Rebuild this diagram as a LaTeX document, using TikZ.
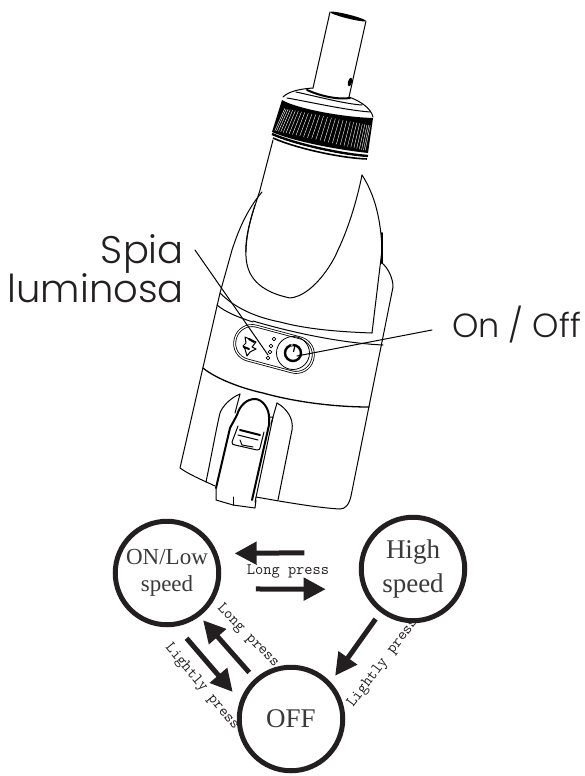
\documentclass[tikz,border=0pt]{standalone}
\usepackage{fontspec}
\usetikzlibrary{arrows.meta,calc}
\setmainfont{Liberation Serif}
\newfontfamily\etifont[UprightFont=*-Light]{Poppins}
\definecolor{tinta}{HTML}{231F20}
\definecolor{texto}{HTML}{3A3A3A}
\begin{document}
\begin{tikzpicture}[x=1pt,y=-1pt,
      linea/.style={draw=black,line width=1pt,line cap=round,line join=round},
      gruesa/.style={linea,line width=2pt},
      eti/.style={font=\etifont\fontsize{38.5}{42}\selectfont,text=tinta,inner sep=0pt,anchor=base east},
      estado/.style={circle,draw=tinta,line width=5pt,fill=white,minimum size=103.5pt,inner sep=0pt,
                     align=center,text=texto},
      pulsa/.style={font=\ttfamily\fontsize{16}{16}\selectfont,text=tinta,inner sep=0pt},
      fl/.style={-{Triangle[length=22pt,width=22pt]},draw=tinta,line width=5pt}]
    \useasboundingbox (0,0) rectangle (584,776);
    % tubo y tapa
    \draw[linea] (330,12) -- (313,88) (366,21) -- (349,97);
    \fill[black,rotate around={-14:(348,16.5)}] (348,16.5) ellipse (18.5pt and 2pt);
    \fill[black,rotate around={75:(350,82)}] (350,82) ellipse (4.5pt and 2pt);
    \draw[linea] (283,97) .. controls (288,92) and (298,89) .. (313,88)
                 (349,97) .. controls (360,101) and (371,108) .. (373,117);
    \draw[linea] (287,98) .. controls (310,102) and (345,110) .. (370,112);
    \draw[linea] (296,92) .. controls (315,96) and (345,104) .. (362,105);
    \draw[gruesa] (307,90) .. controls (320,96) and (338,100) .. (350,98);
    \coordinate (b1) at (282,100);
    \coordinate (b2) at (373,118);
    \coordinate (b3) at (368,153);
    \coordinate (b4) at (272,132);
    \fill[black] (b1) .. controls (295,108) and (340,117) .. (b2) -- (b3)
                 .. controls (340,150) and (295,142) .. (b4) -- cycle;
    \foreach \a in {20,25,...,160} {
      \pgfmathsetmacro{\t}{0.5*(1-cos(\a))}
      \draw[white,line width=0.4pt] ($(b1)!\t!(b2)+(0,8)$) -- ($(b4)!\t!(b3)+(0,-2)$);
    }
    \draw[black,line width=2.4pt] (272,134) .. controls (295,144) and (340,154) .. (368,156);
    \draw[white,line width=0.6pt] (272,136) .. controls (295,146) and (340,156) .. (368,158);
    \draw[black,line width=1.6pt] (273,138) .. controls (295,148) and (340,158) .. (367,159);
    % cuerpo
    \draw[linea] (273,140) -- (260,190) .. controls (255,207) and (247,225) .. (246,250)
                 .. controls (245,270) and (252,290) .. (290,298)
                 .. controls (312,296) and (332,265) .. (338,250)
                 .. controls (350,225) and (358,195) .. (362,175);
    \draw[linea] (262,192) .. controls (245,212) and (237,235) .. (232,250) -- (220,293) -- (180,468)
                 .. controls (190,475) and (200,479) .. (215,486);
    \draw[linea] (255,205) .. controls (250,220) and (245,240) .. (246,252);
    \draw[linea] (362,175) .. controls (375,195) and (381,220) .. (382,250) -- (372,333);
    \draw[gruesa] (382,233) -- (382,263);
    \draw[linea] (382,263) .. controls (388,268) and (393,278) .. (393,287) -- (351,496)
                 .. controls (349,505) and (345,509) .. (340,509) .. controls (320,508) and (290,503) .. (256,497);
    \draw[linea] (220,293) .. controls (235,308) and (255,317) .. (280,322)
                 .. controls (310,330) and (345,332) .. (372,333);
    \draw[linea] (217,305) .. controls (225,312) and (240,318) .. (253,322);
    \draw[linea] (253,321) .. controls (290,332) and (340,343) .. (383,345);
    \draw[linea,line width=1.3pt] (203,368) .. controls (215,378) and (240,388) .. (263,393)
                 .. controls (295,402) and (335,407) .. (369,407);
    % panel del boton
    \node[draw=black,line width=0.8pt,double,double distance=1.2pt,rounded corners=17pt,rotate=-15,
          minimum width=80pt,minimum height=35pt,inner sep=0pt] (panel) at (274,349) {};
    \node[draw=black,circle,line width=0.8pt,minimum size=33pt,inner sep=0pt] (boton) at (293,353) {};
    \draw[black,line width=2.4pt] (boton.center) circle (8pt);
    \draw[white,line width=2.5pt] (291.5,344.5) -- (292.5,344.7);
    \draw[black,line width=1.2pt] (295,345) -- (293.5,352);
    \foreach \x/\y in {274/339,271/346,270/352,268/358}
      \draw[linea,line width=0.7pt] (\x,\y) circle (1.8pt);
    \draw[linea] (245,337) -- (256,342) -- (252,347) -- (256,349) -- (250,352) -- (247,356) -- (245,349) -- (243,346) -- (246,343) -- cycle;
    \draw[gruesa] (249,339) -- (254,342) (244,347) -- (249,349);
    % pestillo
    \draw[linea] (240,394) .. controls (230,398) and (222,407) .. (220,413) .. controls (216,430) and (211,458) .. (206,482);
    \draw[linea] (240,394) -- (235,413);
    \draw[linea] (277,403) .. controls (286,408) and (294,418) .. (292,430) -- (278,500);
    \draw[linea] (277,403) -- (271,424);
    \draw[gruesa] (216,488) -- (230,428) -- (237,415) .. controls (240,405) and (247,399) .. (255,399)
                  .. controls (262,399) and (269,408) .. (269,417) -- (269,425) -- (252,500);
    \draw[linea] (273,417) -- (255,502) (269,417) -- (273,417);
    \draw[linea] (216,488) -- (216,500) -- (233,505) -- (255,508) -- (256,500);
    \draw[linea] (233,497) -- (233,505);
    \draw[gruesa] (240,430) -- (260,435);
    \draw[linea] (238,426) -- (232,442) .. controls (232,444) and (233,445) .. (235,445) -- (257,450)
                 .. controls (259,450) and (260,449) .. (260,448) -- (264,432);
    \draw[linea] (238,435) -- (258,440) (240,440) -- (242,445) -- (253,447);
    % etiquetas
    \node[eti] (spia) at (184,263) {Spia};
    \node[eti] (lumi) at (184,302) {luminosa};
    \node[eti,font=\etifont\fontsize{33.5}{36}\selectfont,anchor=base west] (onoff) at (452,337) {On / Off};
    \coordinate (p1) at (195,250);
    \coordinate (p2) at (268,355);
    \coordinate (p3) at (432,330);
    \coordinate (p4) at (297,356);
    \draw[linea] (p1) -- (p2);
    \draw[linea] (p3) -- (p4);
    % estados
    \node[pulsa] (lp1) at (288,571) {Long press};
    \node[pulsa,rotate=-46] (lp2) at (248,636) {Long press};
    \node[pulsa,rotate=-50] (lg1) at (202,687) {Lightly press};
    \node[pulsa,rotate=53] (lg2) at (383,663) {Lightly press};
    \node[estado,font=\fontsize{23}{27}\selectfont] (on) at (167,573) {ON/Low\\speed};
    \node[estado,font=\fontsize{27}{34}\selectfont] (high) at (413,569) {High\\speed};
    \node[estado,font=\fontsize{27}{32}\selectfont] (off) at (291,719) {OFF};
    \draw[fl,shorten <=57pt,shorten >=17pt] (high.162) -- (on.21);
    \draw[fl,shorten <=37pt,shorten >=37pt] (on.343) -- (high.202);
    \draw[fl,shorten <=8.3pt,shorten >=5.2pt] (off.132.7) -- (on.307.1);
    \draw[fl,shorten <=15.6pt,shorten >=11.2pt] (on.280.6) -- (off.160);
    \draw[fl,shorten <=8.2pt,shorten >=7.7pt] (high.233.4) -- (off.43);
  \end{tikzpicture}
\end{document}
